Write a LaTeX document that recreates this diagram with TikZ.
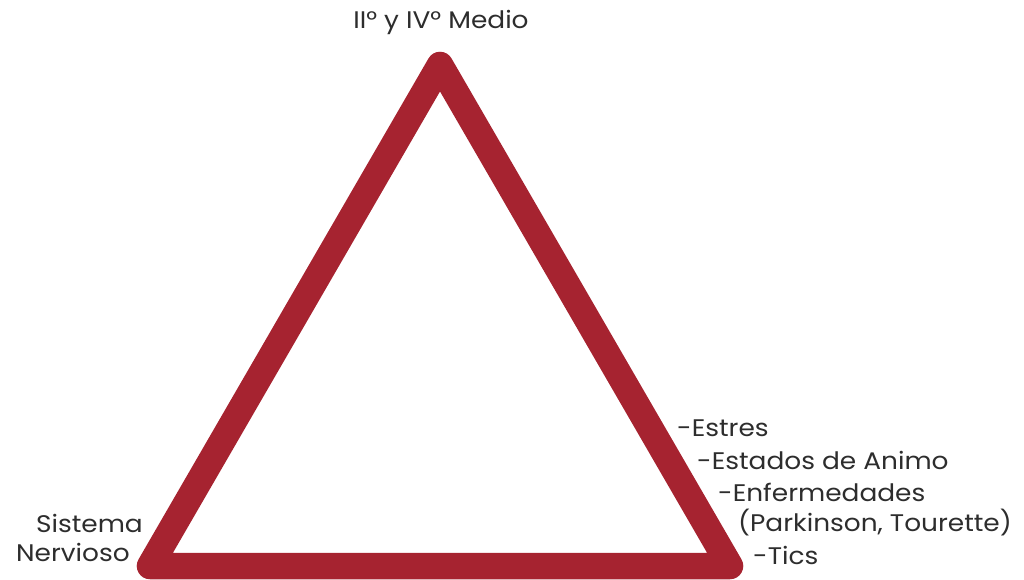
\documentclass[tikz,border=0pt]{standalone}
\usepackage{fontspec}
\setmainfont{Poppins}[FakeStretch=1.1]
\definecolor{tri}{RGB}{166,35,48}
\definecolor{txt}{RGB}{45,45,45}
\begin{document}
\begin{tikzpicture}[x=1pt,y=-1pt,
  lbl/.style={text=txt,font=\fontsize{24}{28}\selectfont,inner sep=0pt},
  edge/.style={draw=tri,line width=26.5pt,line join=round,line cap=round}]
\useasboundingbox (0,0) rectangle (1024,580);
\coordinate (A) at (440,65);
\coordinate (B) at (150,566);
\coordinate (C) at (730,566);
\draw[edge] (A) -- (B) -- (C) -- cycle;
\node[lbl] (top) at (441,22) {II° y IV° Medio};
\node[lbl,anchor=east] (s1) at (143,523) {Sistema};
\node[lbl,anchor=east] (s2) at (130,552) {Nervioso};
\node[lbl,anchor=west] (r1) at (677,428) {-Estres};
\node[lbl,anchor=west] (r2) at (697,460) {-Estados de Animo};
\node[lbl,anchor=west] (r3) at (718,492) {-Enfermedades};
\node[lbl,anchor=west] (r4) at (738,523) {(Parkinson, Tourette)};
\node[lbl,anchor=west] (r5) at (753,555) {-Tics};
\end{tikzpicture}
\end{document}
